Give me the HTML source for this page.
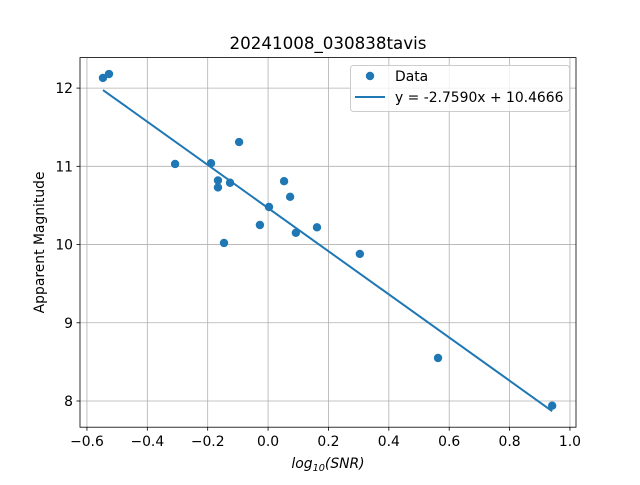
<!DOCTYPE html>
<html><head><meta charset="utf-8"><style>
body{margin:0;background:#fff}
svg text{font-family:"DejaVu Sans","Liberation Sans",sans-serif;fill:#000}
</style></head><body>
<svg id="chart" width="640" height="480" xmlns="http://www.w3.org/2000/svg"></svg>
<script>
const xs = [-0.547,-0.527,-0.308,-0.189,-0.096,-0.166,-0.166,-0.126,-0.146,-0.027,0.003,0.053,0.073,0.092,0.162,0.304,0.563,0.941];
const ys = [12.13,12.18,11.03,11.04,11.31,10.82,10.73,10.79,10.02,10.25,10.48,10.81,10.61,10.15,10.22,9.88,8.55,7.94];
const fitParams = [-2.7590, 10.4666];
const xTicks = [-0.6,-0.4,-0.2,0.0,0.2,0.4,0.6,0.8,1.0];
const xTickLabels = ["\u22120.6","\u22120.4","\u22120.2","0.0","0.2","0.4","0.6","0.8","1.0"];
const yTicks = [8,9,10,11,12];
const yTickLabels = ["8","9","10","11","12"];

const L=80,R=576,T=57.6,B=427.2;
const xmin=-0.623,xmax=1.02,ymin=7.665,ymax=12.39;
const sx=v=>L+(v-xmin)/(xmax-xmin)*(R-L);
const sy=v=>B-(v-ymin)/(ymax-ymin)*(B-T);
const svg=document.getElementById('chart');
const NS='http://www.w3.org/2000/svg';
function mk(tag,attrs,parent){const e=document.createElementNS(NS,tag);for(const k in attrs)e.setAttribute(k,attrs[k]);(parent||svg).appendChild(e);return e;}

xTicks.forEach((t,i)=>{
  const g=mk('line',{x1:sx(t),x2:sx(t),y1:T,y2:B,stroke:'#b0b0b0','stroke-width':0.8});
  
  
  const tk=mk('line',{x1:sx(t),x2:sx(t),y1:B,y2:B+3.5,stroke:'#000','stroke-width':0.8});
  
  
  const tx=mk('text',{x:sx(t),y:B+19,'font-size':13.9,'text-anchor':'middle'});
  tx.textContent=xTickLabels[i];
  
  
});
yTicks.forEach((t,i)=>{
  const g=mk('line',{x1:L,x2:R,y1:sy(t),y2:sy(t),stroke:'#b0b0b0','stroke-width':0.8});
  
  
  const tk=mk('line',{x1:L-3.5,x2:L,y1:sy(t),y2:sy(t),stroke:'#000','stroke-width':0.8});
  
  
  const tx=mk('text',{x:L-7,y:sy(t)+5,'font-size':13.9,'text-anchor':'end'});
  tx.textContent=yTickLabels[i];
  
  
});

xs.forEach((x,i)=>{
  const c=mk('circle',{cx:sx(x),cy:sy(ys[i]),r:4.2,fill:'#1f77b4'});
  
  
});
const x0=Math.min(...xs),x1=Math.max(...xs);
const fl=mk('line',{x1:sx(x0),y1:sy(fitParams[0]*x0+fitParams[1]),x2:sx(x1),y2:sy(fitParams[0]*x1+fitParams[1]),stroke:'#1f77b4','stroke-width':2});



const fr=mk('rect',{x:L,y:T,width:R-L,height:B-T,fill:'none',stroke:'#000','stroke-width':0.8});



let t=mk('text',{x:(L+R)/2,y:49,'font-size':16.7,'text-anchor':'middle'});
t.textContent='20241008_030838tavis';


t=mk('text',{x:(L+R)/2,y:468,'font-size':13.9,'text-anchor':'middle','font-style':'italic'});
t.innerHTML='log<tspan font-size="9.7" dy="3">10</tspan><tspan dy="-3">(SNR)</tspan>';


t=mk('text',{x:44,y:(T+B)/2,'font-size':13.9,'text-anchor':'middle',transform:'rotate(-90 44 '+((T+B)/2)+')'});
t.textContent='Apparent Magnitude';



const lg=mk('g',{});


mk('rect',{x:350.5,y:65.5,width:219,height:46,rx:3,fill:'#fff','fill-opacity':0.8,stroke:'#ccc','stroke-width':1},lg);
const le1=mk('circle',{cx:370,cy:76,r:4.2,fill:'#1f77b4'},lg);


t=mk('text',{x:395,y:81,'font-size':13.9},lg);t.textContent='Data';


const le2=mk('line',{x1:355,x2:385,y1:97,y2:97,stroke:'#1f77b4','stroke-width':2},lg);


t=mk('text',{x:395,y:102,'font-size':13.9},lg);t.textContent='y = -2.7590x + 10.4666';


</script>
</body></html>
